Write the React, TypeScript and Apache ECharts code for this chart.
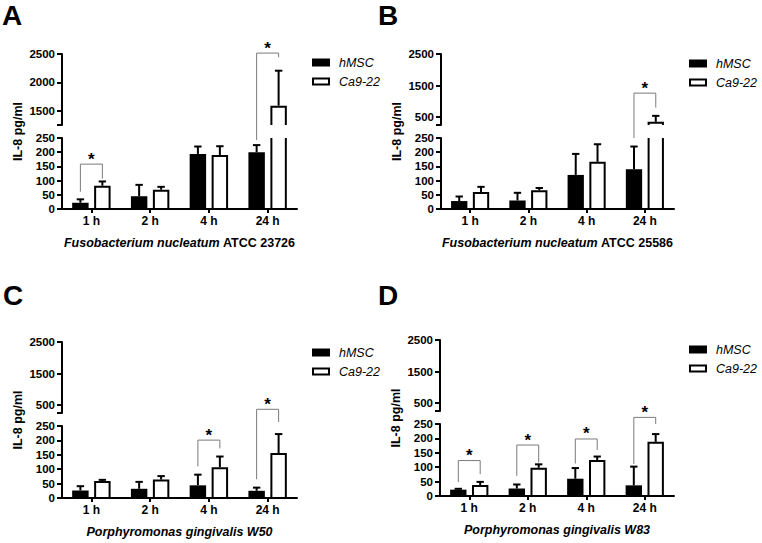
import React, { useEffect, useRef } from 'react';
import * as echarts from 'echarts';

const FONT = "'Liberation Sans', Arial, Helvetica, sans-serif";

const categories = ['1 h', '2 h', '4 h', '24 h'];
const seriesNames = ['hMSC', 'Ca9-22'];

const lowerMin = 0;
const lowerMax = 250;
const lowerInterval = 50;
const upperMax = 2500;
const upperMinA = 1250;
const upperTicksA = [1250, 1500, 2000, 2500];
const upperLabelsA = [1500, 2000, 2500];
const upperMinBCD = 250;
const upperTicksBCD = [250, 500, 1500, 2500];
const upperLabelsBCD = [500, 1500, 2500];

// Panel A – Fusobacterium nucleatum ATCC 23726
const aHmsc = [22, 45, 194, 200];
const aHmscErr = [12, 40, 26, 25];
const aCa922 = [82, 68, 190, 1590];
const aCa922Err = [15, 10, 31, 616];
const aSigCat = [0, 3];
const aSigLeft = [61, 243];
const aSigRight = [107, 534];
const aSigTop = [158, 549];

// Panel B – Fusobacterium nucleatum ATCC 25586
const bHmsc = [28, 30, 120, 140];
const bHmscErr = [16, 27, 74, 80];
const bCa922 = [60, 66, 166, 350];
const bCa922Err = [18, 8, 62, 190];
const bSigCat = [3];
const bSigLeft = [250];
const bSigRight = [357];
const bSigTop = [408];

// Panel C – Porphyromonas gingivalis W50
const cHmsc = [26, 32, 44, 25];
const cHmscErr = [15, 24, 37, 11];
const cCa922 = [59, 64, 107, 156];
const cCa922Err = [4, 12, 37, 66];
const cSigCat = [2, 3];
const cSigLeft = [110, 65];
const cSigRight = [172, 264];
const cSigTop = [201, 308];

// Panel D – Porphyromonas gingivalis W83
const dHmsc = [22, 26, 60, 37];
const dHmscErr = [3, 14, 37, 65];
const dCa922 = [38, 98, 125, 188];
const dCa922Err = [11, 12, 12, 27];
const dSigCat = [0, 1, 2, 3];
const dSigLeft = [48, 70, 113, 111];
const dSigRight = [76, 116, 160, 250];
const dSigTop = [123, 177, 198, 273];

const BAR_W = 0.28;
const BAR_OFF = 0.187;
const CAP = 0.45;
const LW = 2;

const panels = [
  {
    letter: 'A', title: '{i|Fusobacterium nucleatum} {n|ATCC 23726}',
    hmsc: aHmsc, hmscErr: aHmscErr, ca: aCa922, caErr: aCa922Err,
    sigCat: aSigCat, sigLeft: aSigLeft, sigRight: aSigRight, sigTop: aSigTop,
    upperMin: upperMinA, upperTicks: upperTicksA, upperLabels: upperLabelsA,
    L: { left: 62, width: 235, uTop: 54, uH: 71, lTop: 138, lH: 71, legL: 312, legT: 56, letL: 2, letT: 1 },
  },
  {
    letter: 'B', title: '{i|Fusobacterium nucleatum} {n|ATCC 25586}',
    hmsc: bHmsc, hmscErr: bHmscErr, ca: bCa922, caErr: bCa922Err,
    sigCat: bSigCat, sigLeft: bSigLeft, sigRight: bSigRight, sigTop: bSigTop,
    upperMin: upperMinBCD, upperTicks: upperTicksBCD, upperLabels: upperLabelsBCD,
    L: { left: 441, width: 233, uTop: 54, uH: 71, lTop: 138, lH: 71, legL: 689, legT: 57, letL: 378, letT: 1 },
  },
  {
    letter: 'C', title: '{i|Porphyromonas gingivalis W50}',
    hmsc: cHmsc, hmscErr: cHmscErr, ca: cCa922, caErr: cCa922Err,
    sigCat: cSigCat, sigLeft: cSigLeft, sigRight: cSigRight, sigTop: cSigTop,
    upperMin: upperMinBCD, upperTicks: upperTicksBCD, upperLabels: upperLabelsBCD,
    L: { left: 62, width: 235, uTop: 342, uH: 71, lTop: 426, lH: 72, legL: 312, legT: 346, letL: 3, letT: 281 },
  },
  {
    letter: 'D', title: '{i|Porphyromonas gingivalis W83}',
    hmsc: dHmsc, hmscErr: dHmscErr, ca: dCa922, caErr: dCa922Err,
    sigCat: dSigCat, sigLeft: dSigLeft, sigRight: dSigRight, sigTop: dSigTop,
    upperMin: upperMinBCD, upperTicks: upperTicksBCD, upperLabels: upperLabelsBCD,
    L: { left: 440, width: 234, uTop: 340, uH: 71, lTop: 424, lH: 72, legL: 689, legT: 343, letL: 378, letT: 281 },
  },
];

function barRenderer(side: number, filled: boolean) {
  return (params: any, api: any) => {
    const cat = api.value(0);
    const v = api.value(1);
    const e = api.value(2);
    const cs = params.coordSys;
    const top = cs.y;
    const bottom = cs.y + cs.height;
    const band = api.size([1, 0])[0];
    const cx = api.coord([cat, 0])[0] + side * band * BAR_OFF;
    const w = band * BAR_W;
    const x0 = cx - w / 2;
    const x1 = cx + w / 2;
    const yv = api.coord([cat, v])[1];
    if (yv >= bottom - 0.5) return null;
    const yTop = Math.max(yv, top);
    const children: any[] = [];
    if (filled) {
      children.push({ type: 'rect', shape: { x: x0, y: yTop, width: w, height: bottom - yTop }, style: { fill: '#000' } });
    } else {
      children.push({ type: 'rect', shape: { x: x0, y: yTop, width: w, height: bottom - 1 - yTop }, style: { fill: '#fff' } });
      const xl = x0 + LW / 2;
      const xr = x1 - LW / 2;
      if (yv >= top) {
        children.push({
          type: 'polyline',
          shape: { points: [[xl, bottom], [xl, yv + LW / 2], [xr, yv + LW / 2], [xr, bottom]] },
          style: { stroke: '#000', lineWidth: LW, fill: 'none' },
        });
      } else {
        children.push({ type: 'line', shape: { x1: xl, y1: bottom, x2: xl, y2: top }, style: { stroke: '#000', lineWidth: LW } });
        children.push({ type: 'line', shape: { x1: xr, y1: bottom, x2: xr, y2: top }, style: { stroke: '#000', lineWidth: LW } });
      }
    }
    const ye = api.coord([cat, v + e])[1];
    if (yv >= top && ye < yv) {
      const yeC = Math.max(ye, top);
      children.push({ type: 'line', shape: { x1: cx, y1: yv, x2: cx, y2: yeC }, style: { stroke: '#000', lineWidth: LW } });
      if (ye >= top) {
        children.push({
          type: 'line',
          shape: { x1: cx - (w * CAP) / 2, y1: ye, x2: cx + (w * CAP) / 2, y2: ye },
          style: { stroke: '#000', lineWidth: LW },
        });
      }
    }
    return { type: 'group', children };
  };
}

function bracketRenderer(params: any, api: any) {
  const cat = api.value(0);
  const band = api.size([1, 0])[0];
  const cx = api.coord([cat, 0])[0];
  const xl = cx - band * BAR_OFF;
  const xr = cx + band * BAR_OFF;
  const yl = api.coord([cat, api.value(1)])[1];
  const yr = api.coord([cat, api.value(2)])[1];
  const yt = api.coord([cat, api.value(3)])[1];
  return {
    type: 'group',
    children: [
      {
        type: 'polyline',
        shape: { points: [[xl, yl], [xl, yt], [xr, yt], [xr, yr]] },
        style: { stroke: '#7a7a7a', lineWidth: 1, fill: 'none' },
      },
      {
        type: 'text',
        x: (xl + xr) / 2,
        y: yt - 5,
        style: { text: '*', fill: '#000', fontSize: 17, fontWeight: 'bold', fontFamily: FONT, align: 'center', verticalAlign: 'middle' },
      },
    ],
  };
}

const plainNumber = (v: number) => String(v);

function buildOption() {
  const grid: any[] = [];
  const xAxis: any[] = [];
  const yAxis: any[] = [];
  const series: any[] = [];
  const title: any[] = [];
  const legend: any[] = [];

  const labelStyle = { color: '#000', fontWeight: 'bold', fontSize: 11.5, fontFamily: FONT };
  const lineStyle = { color: '#000', width: 2 };

  panels.forEach((p, k) => {
    const L = p.L;
    const gU = k * 3;
    const gL = k * 3 + 1;
    const gT = k * 3 + 2;
    grid.push({ left: L.left, top: L.uTop, width: L.width, height: L.uH, containLabel: false, outerBoundsMode: 'none' });
    grid.push({ left: L.left, top: L.lTop, width: L.width, height: L.lH, containLabel: false, outerBoundsMode: 'none' });
    grid.push({ left: L.left, top: L.uTop, width: L.width, height: L.lTop + L.lH - L.uTop, containLabel: false, outerBoundsMode: 'none' });

    xAxis.push({ type: 'category', gridIndex: gU, data: categories, show: false });
    xAxis.push({
      type: 'category', gridIndex: gL, data: categories,
      axisLine: { show: true, lineStyle },
      axisTick: { show: true, alignWithLabel: true, length: 4, lineStyle },
      axisLabel: { ...labelStyle, fontSize: 12, margin: 6 },
      splitLine: { show: false },
      name: p.title, nameLocation: 'middle', nameGap: 27,
      nameTextStyle: {
        color: '#000', fontWeight: 'bold', fontSize: 12.5, fontFamily: FONT,
        rich: {
          i: { fontStyle: 'italic', fontWeight: 'bold', fontSize: 12.5, fontFamily: FONT, color: '#000' },
          n: { fontStyle: 'normal', fontWeight: 'bold', fontSize: 12.5, fontFamily: FONT, color: '#000' },
        },
      },
    });
    xAxis.push({ type: 'value', gridIndex: gT, show: false });

    yAxis.push({
      type: 'value', gridIndex: gU, min: p.upperMin, max: upperMax,
      axisLine: { show: true, lineStyle },
      axisTick: { show: true, length: 5, lineStyle, customValues: p.upperTicks },
      axisLabel: { ...labelStyle, margin: 7, customValues: p.upperLabels, formatter: plainNumber },
      splitLine: { show: false },
    });
    yAxis.push({
      type: 'value', gridIndex: gL, min: lowerMin, max: lowerMax, interval: lowerInterval,
      axisLine: { show: true, lineStyle },
      axisTick: { show: true, length: 5, lineStyle },
      axisLabel: { ...labelStyle, margin: 7, formatter: plainNumber },
      splitLine: { show: false },
    });
    yAxis.push({
      type: 'value', gridIndex: gT, min: 0, max: 1,
      axisLine: { show: false }, axisTick: { show: false }, axisLabel: { show: false }, splitLine: { show: false },
      name: 'IL-8 pg/ml', nameLocation: 'middle', nameGap: 38,
      nameTextStyle: { color: '#000', fontWeight: 'bold', fontSize: 12.5, fontFamily: FONT },
    });

    const hData = categories.map((_, i) => [i, p.hmsc[i], p.hmscErr[i]]);
    const cData = categories.map((_, i) => [i, p.ca[i], p.caErr[i]]);
    [gU, gL].forEach((g) => {
      series.push({
        type: 'custom', name: seriesNames[0], xAxisIndex: g, yAxisIndex: g, data: hData,
        encode: { x: 0, y: 1 }, renderItem: barRenderer(-1, true), clip: false, silent: true,
        itemStyle: { color: '#000' },
      });
      series.push({
        type: 'custom', name: seriesNames[1], xAxisIndex: g, yAxisIndex: g, data: cData,
        encode: { x: 0, y: 1 }, renderItem: barRenderer(1, false), clip: false, silent: true,
        itemStyle: { color: '#fff', borderColor: '#000', borderWidth: 2 },
      });
    });
    series.push({
      type: 'custom', name: 'significance ' + p.letter, xAxisIndex: gL, yAxisIndex: gL,
      data: p.sigCat.map((c, j) => [c, p.sigLeft[j], p.sigRight[j], p.sigTop[j]]),
      encode: { x: 0, y: [1, 2, 3] }, renderItem: bracketRenderer, clip: false, silent: true, z: 5,
    });

    title.push({
      text: p.letter, left: L.letL, top: L.letT, padding: 0,
      textStyle: { fontSize: 28, fontWeight: 'bold', color: '#000', fontFamily: FONT },
    });
    legend.push({
      orient: 'vertical', left: L.legL, top: L.legT, padding: 0,
      itemWidth: 16, itemHeight: 6, itemGap: 6, selectedMode: false,
      textStyle: { fontStyle: 'italic', fontSize: 12.5, color: '#000', fontFamily: FONT, padding: [0, 0, 0, 5] },
      data: [
        { name: seriesNames[0], icon: 'rect', itemStyle: { color: '#000', borderColor: '#000', borderWidth: 2 } },
        { name: seriesNames[1], icon: 'rect', itemStyle: { color: '#fff', borderColor: '#000', borderWidth: 2 } },
      ],
    });
  });

  return { animation: false, backgroundColor: '#fff', title, legend, grid, xAxis, yAxis, series };
}

export default function App() {
  const ref = useRef<HTMLDivElement>(null);
  useEffect(() => {
    const chart = echarts.init(ref.current as HTMLDivElement, null, { renderer: 'svg' });
    chart.setOption(buildOption() as any);
    return () => chart.dispose();
  }, []);
  return (
    <div
      ref={ref}
      style={{ position: 'absolute', left: 0, top: 0, width: 762, height: 543, background: '#fff' }}
    />
  );
}
